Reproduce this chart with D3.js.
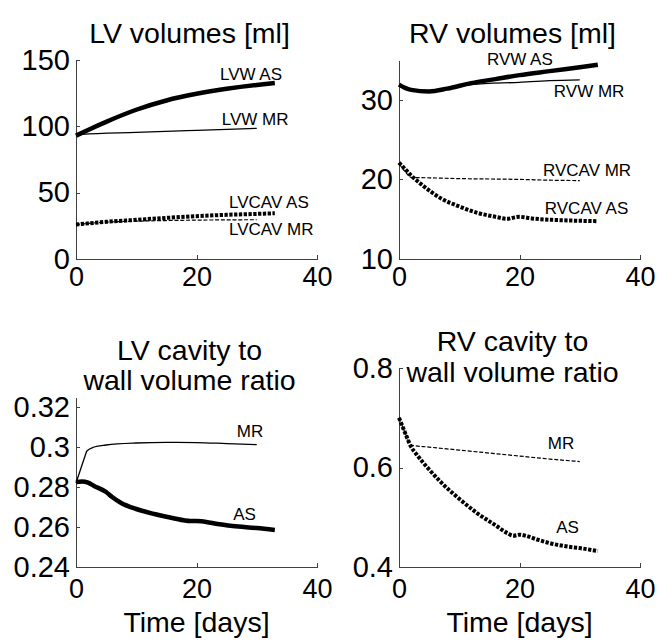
<!DOCTYPE html>
<html>
<head>
    <title>Ventricular volumes</title>
    <script src="https://d3js.org/d3.v7.min.js"></script>
    <style>
        body { margin: 0; background: #fff; }
        svg { display: block; font-family: "Liberation Sans", Arial, sans-serif; }
        .axis path, .axis line { stroke: #404040; stroke-width: 1; shape-rendering: crispEdges; }
        .axis text { fill: #000; font-family: "Liberation Sans", Arial, sans-serif; }
        .xaxis text { font-size: 27px; }
        .yaxis text { font-size: 29px; }
        .title, .xlabel { font-size: 28.5px; fill: #000; }
        .note { font-size: 17px; fill: #000; }
    </style>
</head>
<body>
<div class="chart"></div>
<script>
    // values: [day, value]
    const lvwAS = [[0,93],[2,97.3],[5,103.4],[10,112.5],[15,119.5],[20,124.5],[25,128.3],[30,131.2],[33,132.6]];
    const lvwMR = [[0,93],[1,94],[10,95.5],[20,97],[30,98.5]];
    const lvcavAS = [[0,26],[5,28],[10,29.5],[15,31],[20,32.3],[25,33.3],[30,34],[33,34.5]];
    const lvcavMR = [[0,26],[5,27.8],[10,28.5],[15,29],[20,29.3],[25,29.5],[30,29.6]];

    const rvwAS = [[0,31.9],[1,31.5],[2,31.25],[5,31.05],[8,31.4],[12,32.1],[16,32.6],[20,33.1],[25,33.6],[30,34.1],[33,34.4]];
    const rvwMR = [[0,31.9],[2,31.3],[5,31.1],[8,31.4],[12,31.9],[20,32.2],[25,32.4],[30,32.5]];
    const rvcavAS = [[0,22.1],[1,21.3],[2,20.5],[4,19.2],[7,17.6],[10,16.6],[13,15.8],[16,15.3],[18,15.05],[19,15.2],[20,15.3],[22,15.1],[26,14.9],[30,14.8],[33,14.75]];
    const rvcavMR = [[0,22],[1,21],[2,20.25],[5,20.2],[10,20.1],[15,20.05],[20,20],[25,19.9],[30,19.85]];

    const lvRatioAS = [[0,0.2825],[1,0.2828],[2,0.2822],[3,0.2805],[5,0.2775],[6,0.275],[7.5,0.272],[10,0.269],[13,0.2665],[16,0.2645],[19,0.263],[20,0.263],[23,0.2618],[26,0.2605],[30,0.2595],[33,0.2585]];
    const lvRatioMR = [[0,0.282],[0.5,0.2865],[1,0.291],[1.5,0.2955],[1.8,0.298],[3,0.3],[5,0.301],[10,0.302],[15,0.3023],[20,0.3022],[25,0.3017],[30,0.3012]];

    const rvRatioAS = [[0,0.70],[0.5,0.685],[1,0.67],[2,0.642],[3,0.625],[5,0.596],[7,0.57],[10,0.537],[13,0.508],[16,0.484],[18,0.468],[19,0.463],[20,0.465],[21,0.463],[23,0.455],[25,0.448],[28,0.441],[30,0.438],[33,0.432]];
    const rvRatioMR = [[0,0.70],[1,0.67],[2,0.645],[5,0.641],[10,0.635],[15,0.629],[20,0.623],[25,0.617],[30,0.612]];

    const xTicks = [0, 20, 40];
    const lvVolTicks = [0, 50, 100, 150];
    const rvVolTicks = [10, 20, 30];
    const lvRatioTicks = [0.24, 0.26, 0.28, 0.3, 0.32];
    const rvRatioTicks = [0.4, 0.6, 0.8];

    const styles = {
        thick: {w: 4.5, dash: null},
        thin: {w: 1.3, dash: null},
        dots: {w: 4, dash: "3.3,1.5"},
        dash: {w: 1.2, dash: "4,1.8"}
    };

    const panels = [
        {box: [76, 317, 60, 259], ydom: [0, 150], yticks: lvVolTicks, xpad: 8,
         title: ["LV volumes [ml]"], titleY: [43],
         series: [[lvwMR, "thin"], [lvwAS, "thick"], [lvcavMR, "dash"], [lvcavAS, "dots"]],
         notes: [["LVW AS", 23.9, 134.9], ["LVW MR", 24.2, 101], ["LVCAV AS", 25.4, 38.4], ["LVCAV MR", 25.4, 18.1]]},
        {box: [399, 640, 60, 259], ydom: [10, 35], yticks: rvVolTicks, xpad: 8,
         title: ["RV volumes [ml]"], titleY: [43],
         series: [[rvwMR, "thin"], [rvwAS, "thick"], [rvcavMR, "dash"], [rvcavAS, "dots"]],
         notes: [["RVW AS", 14.6, 34.4], ["RVW MR", 25.7, 30.4], ["RVCAV MR", 23.9, 20.4], ["RVCAV AS", 24.2, 15.7]]},
        {box: [76, 317, 397, 567], ydom: [0.24, 0.325], yticks: lvRatioTicks, xpad: 12,
         title: ["LV cavity to", "wall volume ratio"], titleY: [360, 390], xlabel: true,
         series: [[lvRatioMR, "thin"], [lvRatioAS, "thick"]],
         notes: [["MR", 26.7, 0.305], ["AS", 26.1, 0.2635]]},
        {box: [399, 640, 368, 567], ydom: [0.4, 0.8], yticks: rvRatioTicks, xpad: 12,
         title: ["RV cavity to", "wall volume ratio"], titleY: [351, 382], xlabel: true,
         series: [[rvRatioMR, "dash"], [rvRatioAS, "dots"]],
         notes: [["MR", 24.7, 0.637], ["AS", 26.1, 0.468]]}
    ];

    const svg = d3.select(".chart").append("svg").attr("width", 671).attr("height", 641);
    svg.append("rect").attr("width", 671).attr("height", 641).attr("fill", "#fff");

    panels.forEach(function(p) {
        const [left, right, top, bottom] = p.box;
        const x = d3.scaleLinear().domain([0, 40]).range([left, right]);
        const y = d3.scaleLinear().domain(p.ydom).range([bottom, top]);
        const fmt = d => String(+d.toFixed(2));

        svg.append("g")
            .attr("class", "axis xaxis")
            .attr("transform", "translate(0," + bottom + ")")
            .call(d3.axisBottom(x).tickValues(xTicks).tickSizeInner(-4).tickSizeOuter(0).tickPadding(p.xpad).tickFormat(fmt));

        svg.append("g")
            .attr("class", "axis yaxis")
            .attr("transform", "translate(" + left + ",0)")
            .call(d3.axisLeft(y).tickValues(p.yticks).tickSizeInner(-4).tickSizeOuter(0).tickPadding(6).tickFormat(fmt));

        const line = d3.line()
            .x(d => x(d[0]))
            .y(d => y(d[1]))
            .curve(d3.curveMonotoneX);

        p.series.forEach(function(s) {
            const st = styles[s[1]];
            svg.append("path")
                .datum(s[0])
                .attr("fill", "none")
                .attr("stroke", "#000")
                .attr("stroke-width", st.w)
                .attr("stroke-dasharray", st.dash)
                .attr("stroke-linejoin", "round")
                .attr("d", line);
        });

        p.notes.forEach(function(n) {
            svg.append("text")
                .attr("class", "note")
                .attr("x", x(n[1]))
                .attr("y", y(n[2]))
                .text(n[0]);
        });

        p.title.forEach(function(t, i) {
            svg.append("text")
                .attr("class", "title")
                .attr("x", (left + right) / 2 - 7)
                .attr("y", p.titleY[i])
                .attr("text-anchor", "middle")
                .text(t);
        });

        if (p.xlabel) {
            svg.append("text")
                .attr("class", "xlabel")
                .attr("x", (left + right) / 2)
                .attr("y", 632)
                .attr("text-anchor", "middle")
                .text("Time [days]");
        }
    });
</script>
</body>
</html>
